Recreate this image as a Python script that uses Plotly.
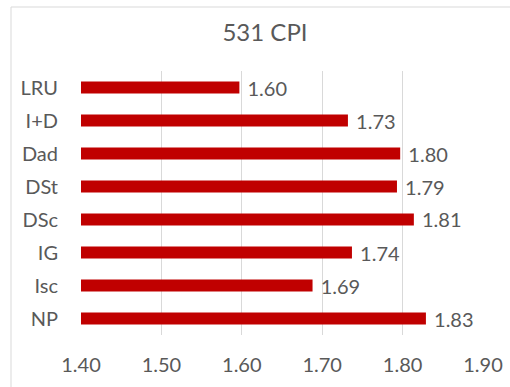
import plotly.graph_objects as go

categories = ["LRU", "I+D", "Dad", "DSt", "DSc", "IG", "Isc", "NP"]
values = [1.597, 1.732, 1.797, 1.793, 1.814, 1.737, 1.688, 1.829]
tick_vals = [1.40, 1.50, 1.60, 1.70, 1.80, 1.90]
tick_text = ["1.40", "1.50", "1.60", "1.70", "1.80", "1.90"]

FONT = "Lato, Carlito, Calibri, sans-serif"
GRAY = "#595959"

fig = go.Figure(go.Bar(
    x=values, y=categories, orientation="h",
    marker=dict(color="#c00000", line=dict(width=0)),
    texttemplate=" %{x:.2f}", textposition="outside",
    constraintext="none",
    textfont=dict(family=FONT, size=20, color=GRAY),
    cliponaxis=False,
))

fig.update_layout(
    width=510, height=387,
    margin=dict(l=81, r=27, t=71, b=52, autoexpand=False),
    paper_bgcolor="white", plot_bgcolor="white",
    bargap=0.63,
    showlegend=False,
    title=dict(text="531 CPI", x=(265 - 81) / 402, xref="paper", xanchor="center",
               y=1 - 33 / 387, yanchor="middle",
               font=dict(family=FONT, size=24, color=GRAY)),
    xaxis=dict(range=[1.40, 1.90], tickvals=tick_vals, ticktext=tick_text,
               showgrid=True, gridcolor="#d9d9d9", gridwidth=1, zeroline=False,
               showline=False, ticks="", ticklabelstandoff=16, automargin=False,
               tickfont=dict(family=FONT, size=20, color=GRAY)),
    yaxis=dict(autorange="reversed", showgrid=False, zeroline=False, showline=False,
               ticks="", ticklabelstandoff=22, automargin=False,
               tickfont=dict(family=FONT, size=20, color=GRAY)),
    shapes=[dict(type="rect", xref="paper", yref="paper",
                 x0=(11 - 81) / 402, x1=2, y0=-1, y1=1 + 64 / 264,
                 line=dict(color="#d9d9d9", width=1), fillcolor="rgba(0,0,0,0)",
                 layer="below")],
)

fig.write_html("out.html")
